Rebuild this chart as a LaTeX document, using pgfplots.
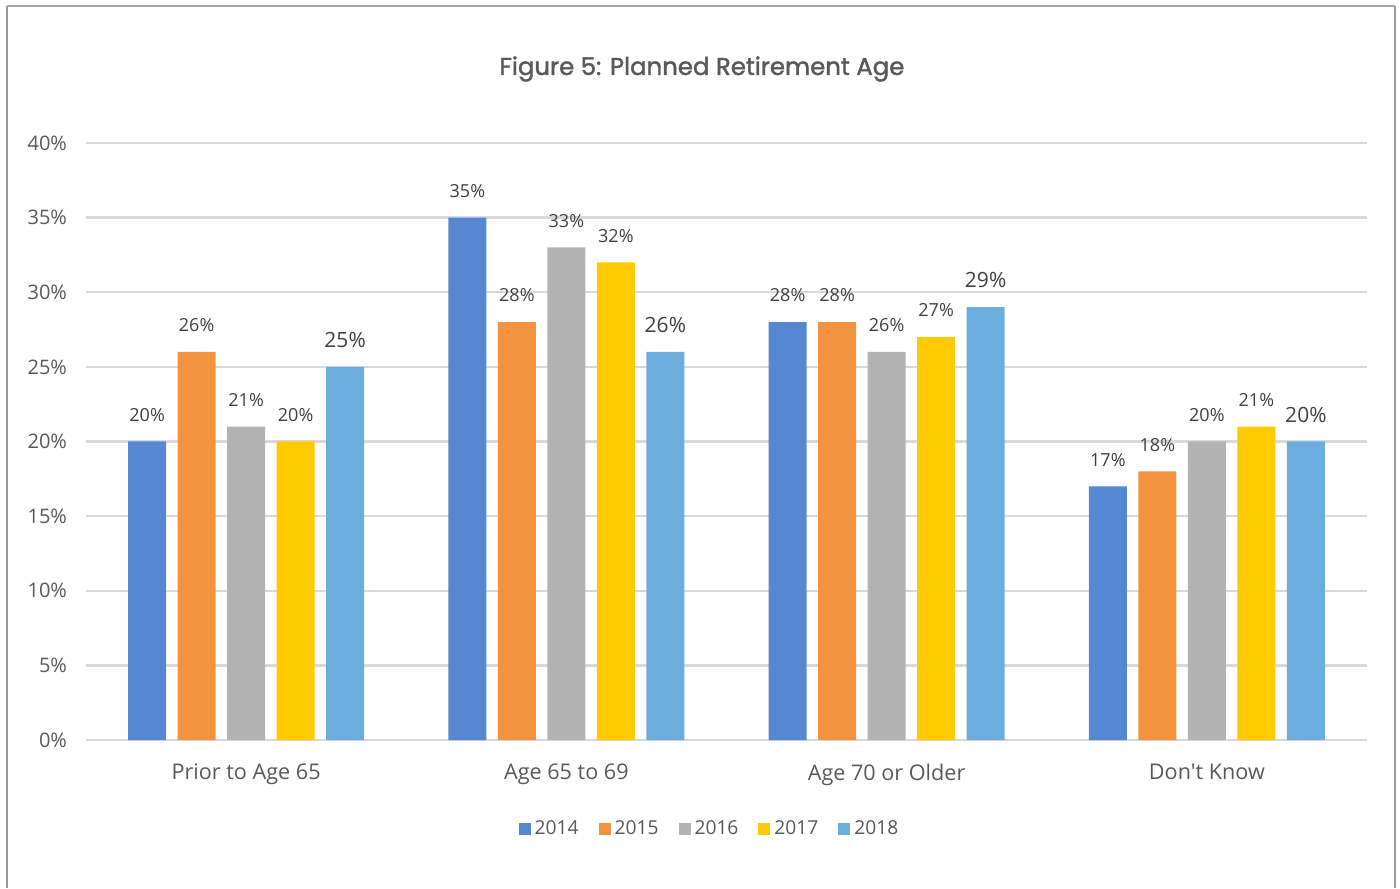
\documentclass[border=0pt]{standalone}
\usepackage{pgfplots}
\pgfplotsset{compat=1.18}
\usepackage{fontspec}
\setmainfont{Open Sans}[Ligatures=TeXOff]
\newfontfamily\titlefont{Poppins}[FakeBold=1.6]
\definecolor{c14}{HTML}{5588D0}
\definecolor{c15}{HTML}{F39340}
\definecolor{c16}{HTML}{B3B3B3}
\definecolor{c17}{HTML}{FFCA00}
\definecolor{c18}{HTML}{6BADDD}
\definecolor{txt}{HTML}{595959}
\definecolor{lbl}{HTML}{404040}
\definecolor{grd}{HTML}{D9D9D9}
\begin{document}
\begin{tikzpicture}
\useasboundingbox (0,0) rectangle (700pt,444pt);
\draw[color=gray!80, line width=1pt] (3.5pt,0) -- (3.5pt,440.75pt);
\draw[color=gray!70, line width=1pt] (3.5pt,440.75pt) -- (697.5pt,440.75pt);
\draw[color=gray!80, line width=1pt] (697.5pt,440.75pt) -- (697.5pt,0);
\node[font=\titlefont\fontsize{12.2}{14}\selectfont, text=txt] at (351pt,409.5pt) {Figure 5: Planned Retirement Age};
\begin{axis}[
  at={(43pt,74pt)}, anchor=south west,
  scale only axis, width=640.5pt, height=298.5pt,
  xmin=-0.5, xmax=3.5, ymin=0, ymax=40,
  ytick={0,5,...,40},
  xtick={0,1,2,3},
  xticklabels={Prior to Age 65, Age 65 to 69, Age 70 or Older, Don't Know},
  yticklabel={\pgfmathprintnumber{\tick}\%},
  /pgf/number format/assume math mode=true,
  axis line style={draw=none},
  major tick length=0pt,
  ymajorgrids, grid style={grd, line width=1.2pt},
  tick label style={text=txt, font=\fontsize{10}{12}\selectfont},
  xticklabel style={font=\fontsize{10.8}{12}\selectfont, yshift=-8.5pt},
  yticklabel style={xshift=-6pt},
  ybar=5.75pt, bar width=19pt,
  nodes near coords={\pgfmathprintnumber{\pgfplotspointmeta}\%},
  nodes near coords style={text=lbl, font=\fontsize{9}{11}\selectfont, yshift=6.5pt},
  legend columns=5,
  legend style={draw=none, at={(0.5,-0.149)}, anchor=center, xshift=-8pt, font=\fontsize{9.6}{11}\selectfont, text=txt,
    /tikz/every even column/.append style={column sep=8pt}},
  legend image code/.code={\fill[#1] (-1.5pt,-3pt) rectangle (4.5pt,3pt);},
]
\addplot[fill=c14, draw=none] coordinates {(0,20) (1,35) (2,28) (3,17)};
\addplot[fill=c15, draw=none] coordinates {(0,26) (1,28) (2,28) (3,18)};
\addplot[fill=c16, draw=none] coordinates {(0,21) (1,33) (2,26) (3,20)};
\addplot[fill=c17, draw=none] coordinates {(0,20) (1,32) (2,27) (3,21)};
\addplot[fill=c18, draw=none, nodes near coords style={font=\fontsize{10.5}{12}\selectfont, yshift=-0.5pt}] coordinates {(0,25) (1,26) (2,29) (3,20)};
\legend{2014,2015,2016,2017,2018}
\end{axis}
\end{tikzpicture}
\end{document}
